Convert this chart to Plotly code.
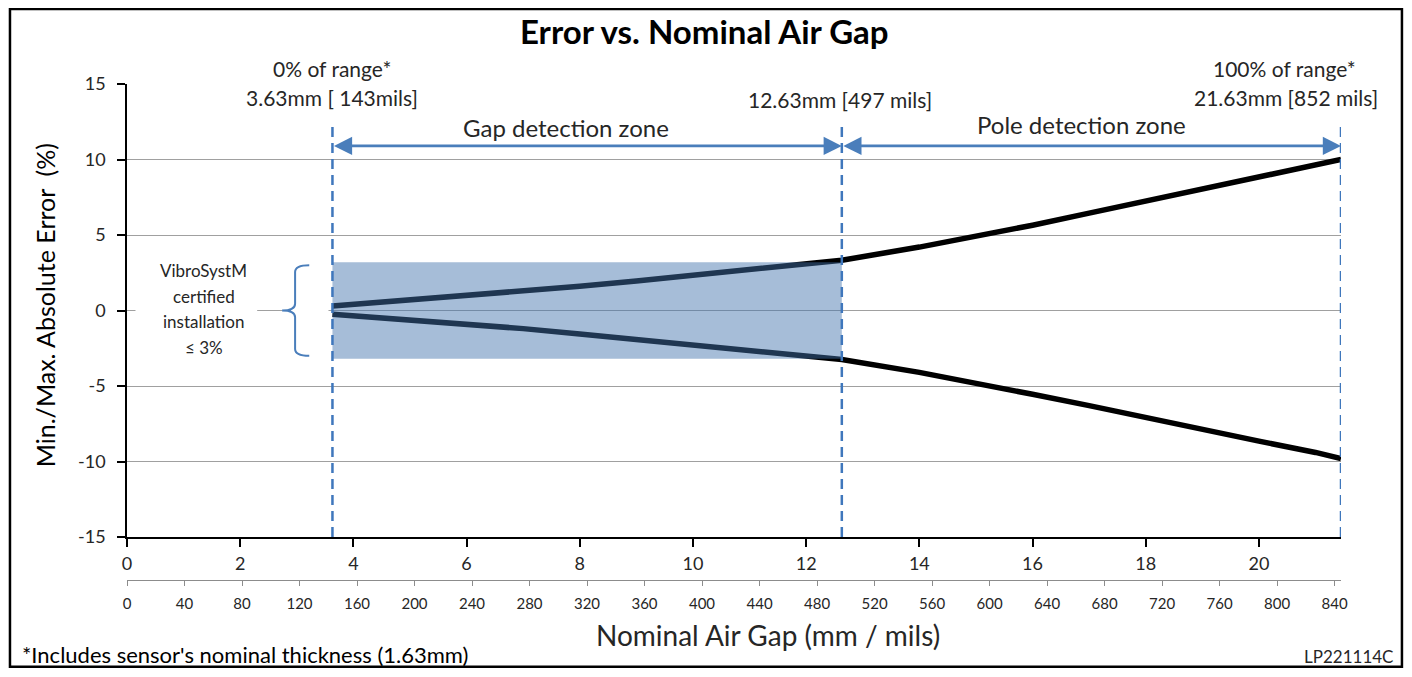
import plotly.graph_objects as go

# ---------------- data ----------------
gap_mm = [3.63, 5, 6, 7, 8, 9, 10, 11, 12, 12.63, 14, 15, 16, 17, 18, 19, 20, 21, 21.45]
err_max = [0.3, 0.68, 0.96, 1.26, 1.6, 1.96, 2.32, 2.7, 3.1, 3.33, 4.2, 4.9, 5.65, 6.45, 7.25, 8.05, 8.85, 9.6, 10.0]
err_min = [-0.25, -0.6, -0.9, -1.2, -1.55, -1.9, -2.28, -2.65, -3.0, -3.25, -4.1, -4.8, -5.55, -6.3, -7.1, -7.85, -8.65, -9.4, -9.8]

zone_bounds_mm = [3.63, 12.63, 21.45]          # dashed boundaries as drawn
zone_names = ["Gap detection zone", "Pole detection zone"]
zone_label_x = [7.76, 16.87]
bound_labels = ["3.63mm [ 143mils]", "12.63mm [497 mils]", "21.63mm [852 mils]"]
range_labels = ["0% of range*", "100% of range*"]
certified_band = 3.2     # shaded band half-height (%)
brace_half = 3.0         # brace half-height (%)
certified_lines = ["VibroSystM", "certified", "installation", "≤ 3%"]

mm_ticks = [0, 2, 4, 6, 8, 10, 12, 14, 16, 18, 20]
mils_ticks = list(range(0, 841, 40))
y_ticks = [-15, -10, -5, 0, 5, 10, 15]
y_ticktext = ["-15", "-10", "-5", "0", "5", "10", "15"]

X_MAX_MM = 21.45
X_MAX_MILS = X_MAX_MM / 0.0254

FONT = "Lato"
TXT = "#262626"
BLUE = "#3f77bc"

fig = go.Figure()

fig.add_trace(go.Scatter(x=gap_mm, y=err_max, mode="lines",
                         line=dict(color="black", width=5.5), hoverinfo="skip", showlegend=False))
fig.add_trace(go.Scatter(x=gap_mm, y=err_min, mode="lines",
                         line=dict(color="black", width=5.5), hoverinfo="skip", showlegend=False))
# invisible trace on the mils axis so it renders
fig.add_trace(go.Scatter(x=[0, X_MAX_MILS], y=[None, None], xaxis="x2", yaxis="y",
                         mode="lines", hoverinfo="skip", showlegend=False))

# white patch hiding zero gridline behind the label, and visible stub
fig.add_shape(type="rect", xref="x", yref="y", x0=0.15, x1=3.56, y0=-0.4, y1=0.4,
              fillcolor="white", line=dict(width=0), layer="between")
fig.add_shape(type="line", xref="x", yref="y", x0=2.3, x1=2.74, y0=0, y1=0,
              line=dict(color="#a0a0a0", width=1), layer="between")

# certified band
fig.add_shape(type="rect", xref="x", yref="y",
              x0=zone_bounds_mm[0], x1=zone_bounds_mm[1], y0=-certified_band, y1=certified_band,
              fillcolor="rgba(66,114,172,0.47)", line=dict(width=0), layer="above")

# dashed boundaries
for b in zone_bounds_mm:
    fig.add_shape(type="line", xref="x", yref="y", x0=b, x1=b, y0=-15, y1=12.5,
                  line=dict(color=BLUE, width=2.5, dash="10px,6px"), layer="above")

# brace
bx_end, bx_sp, bx_pt = 3.22, 2.97, 2.74
h = brace_half
brace = (f"M {bx_end},{h} Q {bx_sp},{h} {bx_sp},{h-0.45} L {bx_sp},0.45 "
         f"Q {bx_sp},0 {bx_pt},0 Q {bx_sp},0 {bx_sp},-0.45 L {bx_sp},{-h+0.45} "
         f"Q {bx_sp},{-h} {bx_end},{-h}")
fig.add_shape(type="path", xref="x", yref="y", path=brace,
              line=dict(color="#4a7ebb", width=2), layer="above")


def txt(x, y, text, size, xref="x", yref="y", xanchor="center", yanchor="middle", color=TXT, angle=0):
    return dict(x=x, y=y, xref=xref, yref=yref, text=text, showarrow=False,
                xanchor=xanchor, yanchor=yanchor, textangle=angle,
                font=dict(family=FONT, size=size, color=color))


ann = []
# double arrows
for a, b in [(zone_bounds_mm[0], zone_bounds_mm[1]), (zone_bounds_mm[1], zone_bounds_mm[2])]:
    ann.append(dict(x=b, y=10.9, ax=a, ay=10.9, xref="x", yref="y", axref="x", ayref="y",
                    text="", showarrow=True, arrowside="end+start",
                    arrowhead=2, startarrowhead=2, arrowsize=1.4, startarrowsize=1.4,
                    arrowwidth=2.6, arrowcolor="#4a7ebb", standoff=0, startstandoff=0))

for name, xl, yl in zip(zone_names, zone_label_x, [12.1, 12.3]):
    ann.append(txt(xl, yl, name, 24))

# top labels
ann.append(txt(zone_bounds_mm[0], 1.032, range_labels[0], 21, yref="paper"))
ann.append(txt(zone_bounds_mm[0], 0.972, bound_labels[0], 21, yref="paper"))
ann.append(txt(12.6, 0.968, bound_labels[1], 21, yref="paper"))
ann.append(txt(1.014, 1.032, range_labels[1], 21, xref="paper", yref="paper", xanchor="right"))
ann.append(txt(1.032, 0.972, bound_labels[2], 21, xref="paper", yref="paper", xanchor="right"))

# certified text
for line, yl in zip(certified_lines, [2.68, 0.96, -0.76, -2.42]):
    ann.append(txt(1.36, yl, line, 17))

# titles & notes
ann.append(txt(0.476, 1.151, "<b>Error vs. Nominal Air Gap</b>", 33, xref="paper", yref="paper",
               yanchor="top", color="black"))
ann.append(txt(-0.0675, 0.554, "Min./Max. Absolute Error  (%)", 25, xref="paper", yref="paper",
               color="black", angle=-90))
ann.append(txt(0.528, -0.111, "Nominal Air Gap (mm / mils)", 28, xref="paper", yref="paper"))
ann.append(txt(-0.0881, -0.151, "*Includes sensor's nominal thickness (1.63mm)", 22,
               xref="paper", yref="paper", xanchor="left", color="black"))
ann.append(txt(1.0445, -0.155, "LP221114C", 17, xref="paper", yref="paper", xanchor="right"))

# outer frame
fig.add_shape(type="rect", xref="paper", yref="paper", x0=-0.0964, x1=1.0502, y0=-0.175, y1=1.151,
              line=dict(color="black", width=2.5), fillcolor="rgba(0,0,0,0)", layer="above")

fig.update_layout(
    width=1396, height=661,
    margin=dict(l=119, r=63, t=76, b=89),
    paper_bgcolor="white", plot_bgcolor="white",
    showlegend=False,
    annotations=ann,
    xaxis=dict(range=[0, X_MAX_MM], tickvals=mm_ticks, ticks="outside", ticklen=8, tickwidth=1.5,
               tickcolor="black", showline=True, linecolor="black", linewidth=1.5,
               showgrid=False, zeroline=False, anchor="y", ticklabelstandoff=2,
               tickfont=dict(family=FONT, size=18, color=TXT)),
    xaxis2=dict(range=[0, X_MAX_MILS], tickvals=mils_ticks, overlaying="x", anchor="free",
                position=0, side="bottom", ticks="outside", ticklen=5, tickcolor="#8c8c8c",
                showline=True, linecolor="#8c8c8c", linewidth=1, showgrid=False, zeroline=False,
                ticklabelstandoff=5, tickfont=dict(family=FONT, size=15, color=TXT)),
    yaxis=dict(range=[-15, 15], tickvals=y_ticks, ticktext=y_ticktext, domain=[0.0867, 1],
               ticks="outside", ticklen=8,
               tickwidth=1.5, tickcolor="black", showline=True, linecolor="black", linewidth=1.5,
               showgrid=True, gridcolor="#a0a0a0", gridwidth=1, zeroline=False,
               ticklabelstandoff=8, tickfont=dict(family=FONT, size=18, color=TXT)),
)

fig.write_html("out.html")
